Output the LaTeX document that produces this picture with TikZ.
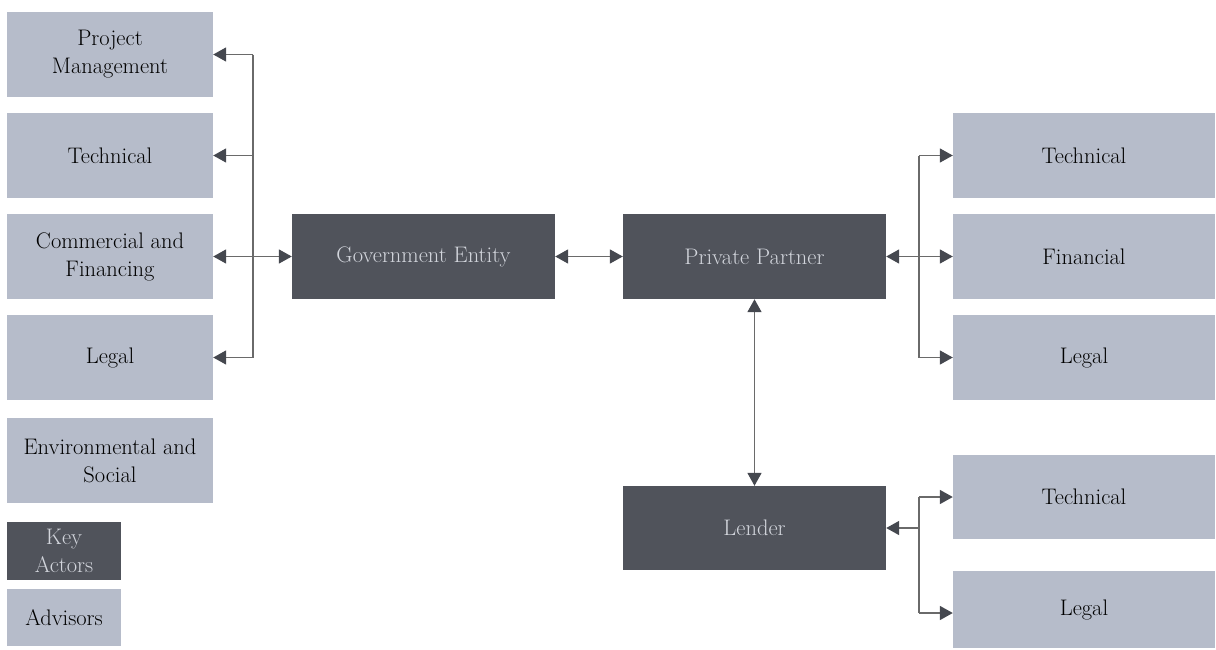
\documentclass[tikz,border=0pt]{standalone}
\usepackage{fontspec}
\usetikzlibrary{arrows.meta}
\definecolor{advfill}{HTML}{B6BCCA}
\definecolor{keyfill}{HTML}{50535B}
\definecolor{keytext}{HTML}{D2D5DC}
\definecolor{linec}{HTML}{6A6A6A}
\definecolor{headc}{HTML}{45484F}
\tikzset{
  advbox/.style={fill=advfill, draw=none, text=black, align=center, inner sep=0pt,
    font=\rmfamily\fontsize{22.5}{28}\selectfont},
  keybox/.style={fill=keyfill, draw=none, text=keytext, align=center, inner sep=0pt,
    font=\rmfamily\fontsize{22.5}{28}\selectfont},
  conn/.style={draw=linec, line width=1.6pt},
  tip/.style={-{Triangle[length=13pt,width=14pt,fill=headc,color=headc]}},
  dtip/.style={{Triangle[length=13pt,width=14pt,fill=headc,color=headc]}-{Triangle[length=13pt,width=14pt,fill=headc,color=headc]}},
}
\begin{document}
\begin{tikzpicture}[x=1pt,y=-1pt]
\useasboundingbox (0,0) rectangle (1216,649);
% left advisors
\node[advbox, minimum width=206pt, minimum height=85pt] (pm) at (110,54.5) {Project\\Management};
\node[advbox, minimum width=206pt, minimum height=85pt] (lt) at (110,155.5) {Technical};
\node[advbox, minimum width=206pt, minimum height=85pt] (cf) at (110,256.5) {Commercial and\\Financing};
\node[advbox, minimum width=206pt, minimum height=85pt] (ll) at (110,357.5) {Legal};
\node[advbox, minimum width=206pt, minimum height=85pt] (es) at (110,460.5) {Environmental and\\Social};
% legend
\node[keybox, minimum width=114pt, minimum height=58pt] (ka) at (64,551) {Key\\Actors};
\node[advbox, minimum width=114pt, minimum height=57pt] (ad) at (64,617.5) {Advisors};
% key actors
\node[keybox, minimum width=263pt, minimum height=85pt] (ge) at (423.5,256.5) {Government Entity};
\node[keybox, minimum width=263pt, minimum height=85pt] (pp) at (754.5,256.5) {Private Partner};
\node[keybox, minimum width=263pt, minimum height=84pt] (le) at (754.5,528) {Lender};
% right advisors
\node[advbox, minimum width=262pt, minimum height=85pt] (rt) at (1084,155.5) {Technical};
\node[advbox, minimum width=262pt, minimum height=85pt] (rf) at (1084,256.5) {Financial};
\node[advbox, minimum width=262pt, minimum height=85pt] (rl) at (1084,357.5) {Legal};
\node[advbox, minimum width=262pt, minimum height=84pt] (lnt) at (1084,497) {Technical};
\node[advbox, minimum width=262pt, minimum height=77pt] (lnl) at (1084,609.5) {Legal};
% bus coordinates
\coordinate (lb1) at (253,54.5);
\coordinate (lb2) at (253,155.5);
\coordinate (lb3) at (253,256.5);
\coordinate (lb4) at (253,357.5);
\coordinate (rb0) at (919,256.5);
\coordinate (rb1) at (919,155.5);
\coordinate (rb3) at (919,357.5);
\coordinate (mb0) at (919,528);
\coordinate (mb1) at (919,497);
\coordinate (mb2) at (919,613);
% left bus
\draw[conn] (lb1) -- (lb4);
\draw[conn,tip] (lb1) -- (pm.east);
\draw[conn,tip] (lb2) -- (lt.east);
\draw[conn,tip] (lb3) -- (cf.east);
\draw[conn,tip] (lb4) -- (ll.east);
\draw[conn,tip] (lb3) -- (ge.west);
% middle
\draw[conn,dtip] (ge.east) -- (pp.west);
\draw[conn,dtip] (pp.south) -- (le.north);
% right bus for private partner
\draw[conn] (rb1) -- (rb3);
\draw[conn,tip] (rb0) -- (pp.east);
\draw[conn,tip] (rb1) -- (rt.west);
\draw[conn,tip] (rb0) -- (rf.west);
\draw[conn,tip] (rb3) -- (rl.west);
% lender bus
\draw[conn] (mb1) -- (mb2);
\draw[conn,tip] (mb0) -- (le.east);
\draw[conn,tip] (mb1) -- (lnt.west);
\draw[conn,tip] (mb2) -- (lnl.west |- mb2);
\end{tikzpicture}
\end{document}
